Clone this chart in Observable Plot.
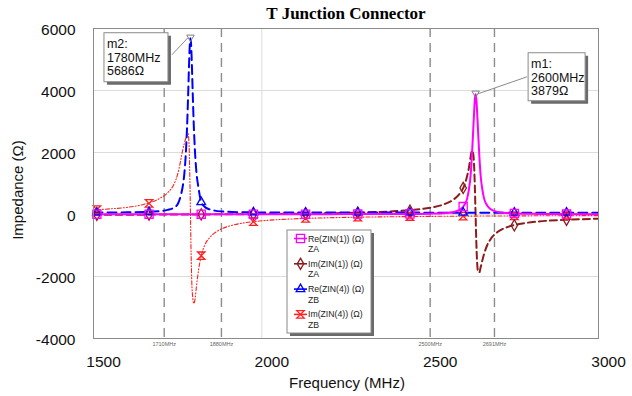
<!DOCTYPE html>
<html><head><meta charset="utf-8">
<script src="https://cdn.jsdelivr.net/npm/d3@7"></script>
<script src="https://cdn.jsdelivr.net/npm/@observablehq/plot@0.6"></script>
<style>html,body{margin:0;padding:0;background:#fff}</style>
</head><body><div id="chart"></div>
<script>
// ---------- data ----------
const title = "T Junction Connector";
const xLabel = "Frequency (MHz)";
const yLabel = "Impedance (Ω)";
const xTicks = [1500, 2000, 2500, 3000];
const yTicks = [6000, 4000, 2000, 0, -2000, -4000];
const yGrid = [4000, 2000, 0, -2000];
const xGrid = [2000];
const markerLineFreqs = [1710, 1880, 2500, 2691];
const markerLineLabels = ["1710MHz", "1880MHz", "2500MHz", "2691MHz"];

const seriesNames = ["Re(ZIN(1)) (Ω)", "Im(ZIN(1)) (Ω)", "Re(ZIN(4)) (Ω)", "Im(ZIN(4)) (Ω)"];
const seriesSubs = ["ZA", "ZA", "ZB", "ZB"];

const freqs = [1500,1550,1600,1650,1700,1720,1740,1750,1760,1765,1770,1774,1778,1781,1784,1786,1788,1790,1792,1795,1798,1802,1806,1812,1820,1830,1845,1860,1880,1900,1950,2000,2100,2200,2300,2400,2450,2500,2540,2570,2590,2600,2610,2615,2620,2624,2628,2631,2633,2635,2637,2639,2642,2646,2650,2655,2660,2670,2680,2700,2730,2770,2820,2900,3000];
const reZin1 = [10,10,10,10,10,10,10,10,10,10,10,10,10,10,10,10,10,10,10,10,10,10,10,10,10,10,10,10,10,10,10,10,11,12,13,16,19,27,44,83,170,280,520,800,1250,1900,2750,3400,3750,3879,3750,3400,2750,1900,1250,800,520,280,170,85,45,27,19,14,12];
const imZin1 = [-9,-8,-6,-5,-3,-2,-1,-1,0,0,0,0,1,1,1,1,1,1,1,1,1,2,2,2,3,3,4,5,6,8,11,15,25,40,64,109,149,219,324,487,706,896,1250,1500,1850,2060,1950,1450,800,-40,-850,-1450,-1830,-1870,-1700,-1480,-1276,-976,-786,-567,-404,-297,-228,-172,-136];
const reZin4 = [64,66,69,77,110,150,230,330,643,903,1337,1924,2843,3816,4902,5467,5686,5467,4902,3816,2843,1924,1337,850,400,250,165,125,99,86,72,67,63,62,61,61,61,60,60,60,60,60,60,60,60,60,60,60,60,60,60,60,60,60,60,60,60,60,60,60,60,60,60,60,60];
const imZin4 = [150,182,230,330,540,700,1000,1300,1801,2077,2300,2450,2540,2610,2200,1300,0,-1300,-2200,-2700,-2870,-2700,-2300,-1800,-1330,-1000,-745,-594,-466,-384,-266,-204,-138,-105,-84,-71,-65,-61,-57,-55,-54,-53,-53,-52,-52,-52,-51,-51,-51,-51,-51,-51,-50,-50,-50,-50,-49,-49,-48,-47,-46,-44,-42,-39,-36];

const markerFreqs = [1510,1665,1820,1975,2130,2285,2440,2598,2750,2905];
const mkReZin1 = [10,10,10,10,11,13,17,255,35,14];
const mkImZin1 = [-9,-4,3,13,29,58,125,856,-350,-170];
const mkReZin4 = [65,82,400,69,63,62,61,60,60,60];
const mkImZin4 = [155,360,-1330,-231,-126,-87,-66,-53,-45,-39];

const annotNames = ["m1:", "m2:"];
const annotFreqs = [2635, 1788];
const annotValues = [3879, 5686];
const annotFreqText = ["2600MHz", "1780MHz"];
const annotValueText = ["3879Ω", "5686Ω"];

// ---------- styling ----------
const FONT = "'Liberation Sans', Arial, Helvetica, sans-serif";
const hourglass = { draw(ctx, size) { const s = Math.sqrt(size) / 2; ctx.moveTo(-s, -s); ctx.lineTo(s, -s); ctx.lineTo(-s, s); ctx.lineTo(s, s); ctx.closePath(); } };
const downTri = { draw(ctx, size) { const s = Math.sqrt(size) / 2; ctx.moveTo(-s, -0.85 * s); ctx.lineTo(s, -0.85 * s); ctx.lineTo(0, 0.9 * s); ctx.closePath(); } };

const styles = [
  { color: "#ff00ff", width: 2, dash: undefined, symbol: "square", r: 4.6, d3sym: d3.symbolSquare },
  { color: "#8e1b1b", width: 2, dash: "7,4", symbol: "diamond", r: 3.4, d3sym: d3.symbolDiamond },
  { color: "#0000ff", width: 2, dash: "9,5", symbol: "triangle", r: 3.2, d3sym: d3.symbolTriangle },
  { color: "#ff2020", width: 1.1, dash: "4,2,1,2,1,2", symbol: hourglass, r: 4.2, d3sym: hourglass }
];
const seriesVals = [reZin1, imZin1, reZin4, imZin4];
const seriesMk = [mkReZin1, mkImZin1, mkReZin4, mkImZin4];
const drawOrder = [3, 1, 2, 0];

const lineMarks = [];
for (const i of drawOrder) {
  const st = styles[i];
  lineMarks.push(Plot.line(freqs.map((f, k) => ({ f, v: seriesVals[i][k] })), {
    x: "f", y: "v", stroke: st.color, strokeWidth: st.width, strokeDasharray: st.dash, curve: "monotone-x", clip: true
  }));
}
for (const i of drawOrder) {
  const st = styles[i];
  lineMarks.push(Plot.dot(markerFreqs.map((f, k) => ({ f, v: seriesMk[i][k] })), {
    x: "f", y: "v", symbol: st.symbol, r: st.r, stroke: st.color, strokeWidth: 1.3, fill: "none"
  }));
}

const annot = annotFreqs.map((f, i) => ({ f, v: annotValues[i] }));

const plot = Plot.plot({
  width: 632, height: 396,
  marginLeft: 93, marginRight: 34, marginTop: 28, marginBottom: 58,
  x: { domain: [1500, 3000], axis: null },
  y: { domain: [-4000, 6000], axis: null },
  style: { fontFamily: FONT, background: "white", overflow: "visible" },
  marks: [
    Plot.ruleY(yGrid, { stroke: "#dcdcdc", strokeWidth: 1 }),
    Plot.ruleX(xGrid, { stroke: "#dcdcdc", strokeWidth: 1 }),
    Plot.ruleX(markerLineFreqs, { stroke: "#8c8c8c", strokeWidth: 1.4, strokeDasharray: "9,6" }),
    Plot.text(markerLineFreqs, { x: d => d, frameAnchor: "bottom", lineAnchor: "middle", dy: 6, text: (d, i) => markerLineLabels[i], fontSize: 5.5, fill: "#666" }),
    ...lineMarks,
    Plot.dot(annot, { x: "f", y: "v", symbol: downTri, r: 4.2, stroke: "#808080", strokeWidth: 1, fill: "none" }),
    Plot.frame({ stroke: "#8a8a8a" }),
    Plot.text(xTicks, { x: d => d, frameAnchor: "bottom", lineAnchor: "middle", dy: 24, dx: 10, text: d => String(d), fontSize: 15.5, fill: "#111" }),
    Plot.text(yTicks, { y: d => d, frameAnchor: "left", textAnchor: "end", lineAnchor: "middle", dx: -18, dy: 2, text: d => String(d), fontSize: 15.5, fill: "#111" })
  ]
});

const svg = d3.select(plot);
const sx = plot.scale("x"), sy = plot.scale("y");

// title and axis labels
svg.append("text").attr("x", 346).attr("y", 18.5).attr("text-anchor", "middle")
  .attr("font-family", "'Liberation Serif', 'Times New Roman', serif").attr("font-weight", "bold")
  .attr("font-size", 17).attr("fill", "#000").text(title);
svg.append("text").attr("x", 347).attr("y", 388).attr("text-anchor", "middle")
  .attr("font-family", FONT).attr("font-size", 15).attr("fill", "#111").text(xLabel);
svg.append("text").attr("transform", "translate(23,190) rotate(-90)").attr("text-anchor", "middle")
  .attr("font-family", FONT).attr("font-size", 15).attr("fill", "#111").text(yLabel);

// marker annotation boxes
const boxLayout = [
  { dx: 53, dy: -41, w: 57, h: 48, lx1: 52, ly1: -17, lx2: 3, ly2: 0 },
  { dx: -86, dy: -5, w: 64, h: 49, lx1: -18, ly1: 17, lx2: -2, ly2: 0 }
];
annot.forEach((a, i) => {
  const px = sx.apply(a.f), py = sy.apply(a.v), L = boxLayout[i];
  const g = svg.append("g");
  g.append("line").attr("x1", px + L.lx1).attr("y1", py + L.ly1).attr("x2", px + L.lx2).attr("y2", py + L.ly2)
    .attr("stroke", "#8a8a8a").attr("stroke-width", 1);
  g.append("rect").attr("x", px + L.dx + 3).attr("y", py + L.dy + 3).attr("width", L.w).attr("height", L.h).attr("fill", "#6a6a6a");
  g.append("rect").attr("x", px + L.dx).attr("y", py + L.dy).attr("width", L.w).attr("height", L.h)
    .attr("fill", "#fff").attr("stroke", "#8a8a8a").attr("stroke-width", 1);
  [annotNames[i], annotFreqText[i], annotValueText[i]].forEach((t, k) => {
    g.append("text").attr("x", px + L.dx + 3).attr("y", py + L.dy + 15.5 + 13.5 * k).attr("text-anchor", "start")
      .attr("font-family", FONT).attr("font-size", 12.5).attr("fill", "#111").text(t);
  });
});

// legend
const LX = 287, LY = 230, LW = 84, LH = 103;
const lg = svg.append("g");
lg.append("rect").attr("x", LX + 3).attr("y", LY + 3).attr("width", LW).attr("height", LH).attr("fill", "#6a6a6a");
lg.append("rect").attr("x", LX).attr("y", LY).attr("width", LW).attr("height", LH).attr("fill", "#fff").attr("stroke", "#8a8a8a");
seriesNames.forEach((name, i) => {
  const st = styles[i];
  const cy = LY + 8.5 + 25.3 * i;
  lg.append("line").attr("x1", LX + 7).attr("x2", LX + 20).attr("y1", cy).attr("y2", cy)
    .attr("stroke", st.color).attr("stroke-width", 1.6);
  lg.append("path").attr("transform", `translate(${LX + 13.5},${cy})`)
    .attr("d", d3.symbol().type(st.d3sym).size(Math.PI * st.r * st.r)())
    .attr("fill", "none").attr("stroke", st.color).attr("stroke-width", 1.3);
  lg.append("text").attr("x", LX + 21).attr("y", cy + 3).attr("text-anchor", "start").attr("font-family", FONT).attr("font-size", 8.7).attr("fill", "#222").text(name);
  lg.append("text").attr("x", LX + 21).attr("y", cy + 13.5).attr("text-anchor", "start").attr("font-family", FONT).attr("font-size", 8.7).attr("fill", "#222").text(seriesSubs[i]);
});

document.getElementById("chart").appendChild(plot);
</script></body></html>
